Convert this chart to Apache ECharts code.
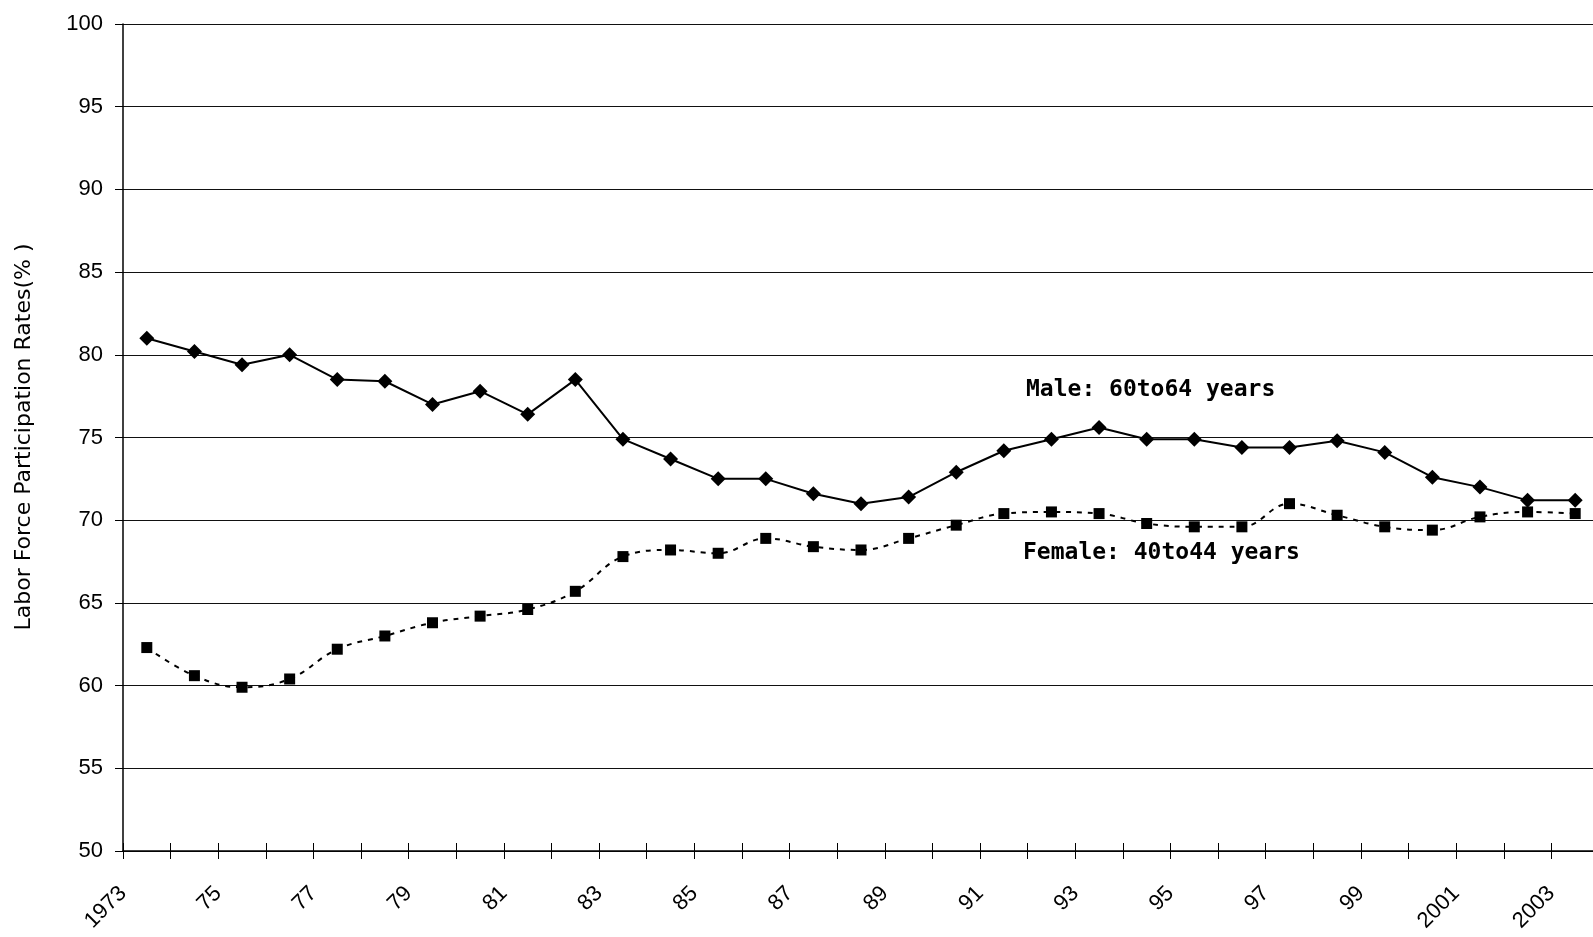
<!DOCTYPE html>
<html>
<head>
<meta charset="utf-8">
<title>Labor Force Participation Rates</title>
<script src="https://cdn.jsdelivr.net/npm/echarts@6/dist/echarts.min.js"></script>
<style>
  html, body { margin: 0; padding: 0; background: #fff; overflow: hidden; }
  /* the plot runs a few pixels past the right edge of the window */
  #chart { width: 1610px; height: 937px; }
</style>
</head>
<body>
<div id="chart"></div>
<script>
// Survey years, one point per year
const years = ['1973','1974','1975','1976','1977','1978','1979','1980','1981','1982',
  '1983','1984','1985','1986','1987','1988','1989','1990','1991','1992',
  '1993','1994','1995','1996','1997','1998','1999','2000','2001','2002','2003'];

// Labels written at the boundaries between year bands (every other one shown)
const boundaryLabels = ['1973','','75','','77','','79','','81','','83','','85','','87','',
  '89','','91','','93','','95','','97','','99','','2001','','2003',''];

// Participation rates (%)
const male60to64 = [81.0, 80.2, 79.4, 80.0, 78.5, 78.4, 77.0, 77.8, 76.4, 78.5,
  74.9, 73.7, 72.5, 72.5, 71.6, 71.0, 71.4, 72.9, 74.2, 74.9,
  75.6, 74.9, 74.9, 74.4, 74.4, 74.8, 74.1, 72.6, 72.0, 71.2, 71.2];

const female40to44 = [62.3, 60.6, 59.9, 60.4, 62.2, 63.0, 63.8, 64.2, 64.6, 65.7,
  67.8, 68.2, 68.0, 68.9, 68.4, 68.2, 68.9, 69.7, 70.4, 70.5,
  70.4, 69.8, 69.6, 69.6, 71.0, 70.3, 69.6, 69.4, 70.2, 70.5, 70.4];

const yTicks = { min: 50, max: 100, interval: 5 };

const chart = echarts.init(document.getElementById('chart'), null, { renderer: 'canvas' });

const sans = '"Liberation Sans", Arial, sans-serif';
const wide = '"DejaVu Sans", sans-serif';
const mono = '"DejaVu Sans Mono", "Liberation Mono", monospace';

chart.setOption({
  animation: false,
  backgroundColor: '#ffffff',
  grid: { left: 123, top: 24, width: 1476, height: 827, containLabel: false },
  xAxis: [
    {
      type: 'category',
      data: years,
      boundaryGap: true,
      axisLine: { show: true, lineStyle: { color: '#000', width: 1.5 } },
      axisTick: { show: true, inside: false, length: 8, interval: 0, lineStyle: { color: '#000', width: 1 } },
      axisLabel: { show: false },
      splitLine: { show: false }
    },
    {
      type: 'category',
      data: boundaryLabels,
      boundaryGap: false,
      position: 'bottom',
      axisLine: { show: false },
      axisTick: { show: true, inside: true, length: 8, interval: 0, lineStyle: { color: '#000', width: 1 } },
      axisLabel: {
        show: true,
        interval: 0,
        rotate: 45,
        margin: 39,
        color: '#000',
        fontSize: 22,
        fontFamily: sans
      },
      splitLine: { show: false }
    }
  ],
  yAxis: {
    type: 'value',
    min: yTicks.min,
    max: yTicks.max,
    interval: yTicks.interval,
    axisLine: { show: true, lineStyle: { color: '#000', width: 1.5 } },
    axisTick: { show: true, inside: false, length: 8, lineStyle: { color: '#000', width: 1 } },
    axisLabel: {
      color: '#000',
      fontSize: 22,
      fontFamily: sans,
      margin: 20,
      padding: [0, 0, 11, 0]
    },
    splitLine: { show: true, lineStyle: { color: '#111', width: 1 } }
  },
  series: [
    {
      name: 'Male: 60to64 years',
      type: 'line',
      xAxisIndex: 0,
      data: male60to64,
      symbol: 'diamond',
      symbolSize: 15,
      itemStyle: { color: '#000' },
      lineStyle: { color: '#000', width: 2 },
      z: 3
    },
    {
      name: 'Female: 40to44 years',
      type: 'line',
      xAxisIndex: 0,
      data: female40to44,
      smooth: 0.4,
      symbol: 'rect',
      symbolSize: 11,
      itemStyle: { color: '#000' },
      lineStyle: { color: '#000', width: 2, type: [5, 6] },
      z: 3
    }
  ],
  graphic: [
    {
      type: 'text',
      x: 24, y: 437,
      rotation: Math.PI / 2,
      style: {
        text: 'Labor Force Participation Rates(% )',
        font: '22px ' + wide,
        fill: '#000',
        align: 'center', verticalAlign: 'middle',
        textAlign: 'center', textVerticalAlign: 'middle'
      }
    },
    {
      type: 'text',
      x: 1026, y: 390,
      style: {
        text: 'Male: 60to64 years',
        font: 'bold 23px ' + mono,
        fill: '#000',
        align: 'left', verticalAlign: 'middle',
        textAlign: 'left', textVerticalAlign: 'middle'
      }
    },
    {
      type: 'text',
      x: 1023, y: 553,
      style: {
        text: 'Female: 40to44 years',
        font: 'bold 23px ' + mono,
        fill: '#000',
        align: 'left', verticalAlign: 'middle',
        textAlign: 'left', textVerticalAlign: 'middle'
      }
    }
  ]
});
</script>
</body>
</html>
